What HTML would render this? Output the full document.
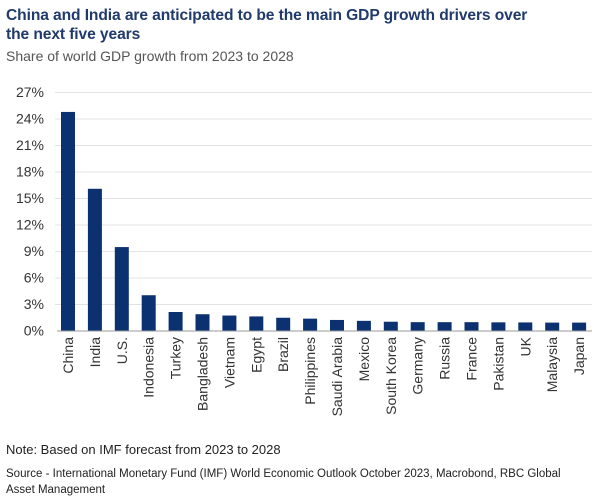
<!DOCTYPE html>
<html><head><style>
body{margin:0;width:600px;height:504px;background:#fff;font-family:"Liberation Sans",sans-serif;overflow:hidden;position:relative}
.t{position:absolute;left:6px;top:6px;font-size:15.6px;font-weight:bold;color:#1f3a6b;line-height:19px;width:594px;letter-spacing:-0.1px}
.s{position:absolute;left:6px;top:48px;font-size:14px;color:#555}
.n{position:absolute;left:6px;top:442px;font-size:13px;color:#222}
.src{position:absolute;left:6px;top:466px;font-size:11.5px;color:#222;line-height:16px;width:560px}
</style></head><body>
<div class="t">China and India are anticipated to be the main GDP growth drivers over<br>the next five years</div>
<div class="s">Share of world GDP growth from 2023 to 2028</div>
<svg width="600" height="504" style="position:absolute;left:0;top:0" font-family="Liberation Sans, sans-serif">
<g stroke="#e3e3e3" stroke-width="1">
<line x1="55" x2="592" y1="92.5" y2="92.5"/><line x1="55" x2="592" y1="119" y2="119"/><line x1="55" x2="592" y1="145.5" y2="145.5"/><line x1="55" x2="592" y1="172" y2="172"/><line x1="55" x2="592" y1="198.5" y2="198.5"/><line x1="55" x2="592" y1="225" y2="225"/><line x1="55" x2="592" y1="251.5" y2="251.5"/><line x1="55" x2="592" y1="278" y2="278"/><line x1="55" x2="592" y1="304.5" y2="304.5"/>
</g>
<g font-size="14" fill="#333" text-anchor="end">
<text x="44" y="97">27%</text><text x="44" y="123.5">24%</text><text x="44" y="150">21%</text><text x="44" y="176.5">18%</text><text x="44" y="203">15%</text><text x="44" y="229.5">12%</text><text x="44" y="256">9%</text><text x="44" y="282.5">6%</text><text x="44" y="309">3%</text><text x="44" y="335.5">0%</text>
</g>
<g fill="#0b3170" id="bars"></g>
<line x1="57" x2="592" y1="331" y2="331" stroke="#999" stroke-width="1"/>
<g font-size="14" fill="#333" text-anchor="end" id="labs"></g>
</svg>
<div class="n">Note: Based on IMF forecast from 2023 to 2028</div>
<div class="src">Source - International Monetary Fund (IMF) World Economic Outlook October 2023, Macrobond, RBC Global<br>Asset Management</div>
<script>
var d=[["China",24.8],["India",16.1],["U.S.",9.5],["Indonesia",4.05],["Turkey",2.15],["Bangladesh",1.9],["Vietnam",1.75],["Egypt",1.65],["Brazil",1.5],["Philippines",1.4],["Saudi Arabia",1.25],["Mexico",1.15],["South Korea",1.05],["Germany",1.0],["Russia",1.0],["France",1.0],["Pakistan",0.98],["UK",0.97],["Malaysia",0.95],["Japan",0.95]];
var b="",l="";
d.forEach(function(e,i){var c=68+i*26.9,h=e[1]*26.5/3;
b+='<rect x="'+(c-7)+'" y="'+(331-h)+'" width="14" height="'+h+'"/>';
l+='<text transform="translate('+(c+5)+',337) rotate(-90)">'+e[0]+'</text>';});
document.getElementById("bars").innerHTML=b;document.getElementById("labs").innerHTML=l;
</script>
</body></html>
